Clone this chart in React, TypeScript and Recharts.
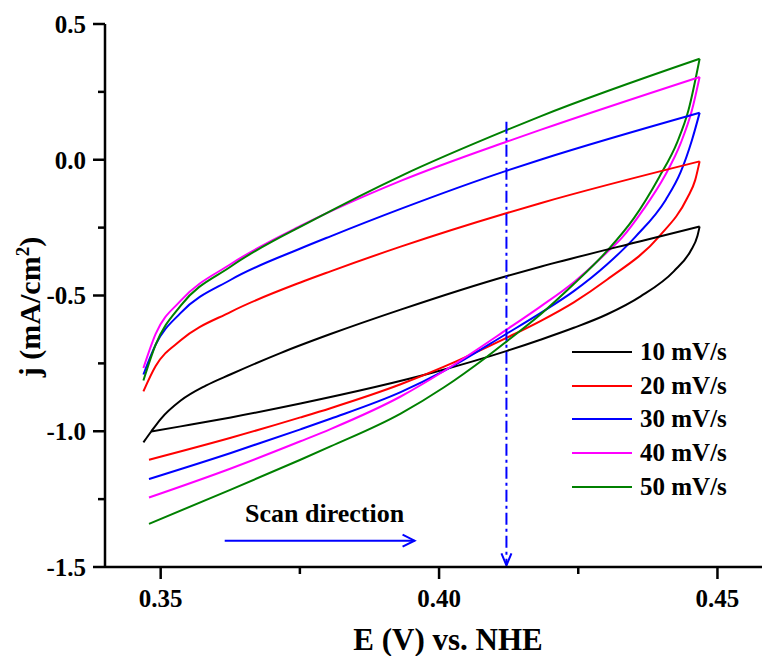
import React from 'react';
import { LineChart, Line, XAxis, YAxis, Legend, ReferenceLine } from 'recharts';

type Pt = [number, number];

// scan rates and colours
const rates = ['10 mV/s', '20 mV/s', '30 mV/s', '40 mV/s', '50 mV/s'];
const colors = ['#000000', '#ff0000', '#0000ff', '#ff00ff', '#008000'];

// lower branch of each loop (E in V, j in mA/cm2)
const lower10: Pt[] = [[0.3483, -1.001], [0.3536, -0.982], [0.3626, -0.949], [0.3751, -0.898], [0.3991, -0.783], [0.4122, -0.704], [0.4182, -0.663], [0.4242, -0.619], [0.4302, -0.569], [0.4362, -0.503], [0.4422, -0.410], [0.4452, -0.335], [0.4464, -0.281], [0.4468, -0.246]];
const lower20: Pt[] = [[0.3479, -1.105], [0.3626, -1.024], [0.3751, -0.949], [0.3805, -0.915], [0.3931, -0.827], [0.4009, -0.762], [0.4122, -0.655], [0.4182, -0.594], [0.4242, -0.525], [0.4302, -0.441], [0.4395, -0.283], [0.4446, -0.140], [0.4460, -0.075], [0.4468, -0.006]];
const lower30: Pt[] = [[0.3479, -1.176], [0.3626, -1.080], [0.3751, -0.993], [0.3805, -0.954], [0.3931, -0.856], [0.4009, -0.778], [0.4122, -0.640], [0.4182, -0.565], [0.4242, -0.484], [0.4302, -0.385], [0.4353, -0.283], [0.4407, -0.148], [0.4434, -0.045], [0.4454, 0.071], [0.4468, 0.173]];
const lower40: Pt[] = [[0.3479, -1.244], [0.3626, -1.137], [0.3751, -1.037], [0.3805, -0.992], [0.3931, -0.872], [0.4009, -0.778], [0.4122, -0.625], [0.4182, -0.541], [0.4242, -0.451], [0.4302, -0.340], [0.4329, -0.286], [0.4367, -0.183], [0.4405, -0.061], [0.4434, 0.061], [0.4454, 0.181], [0.4468, 0.305]];
const lower50: Pt[] = [[0.3479, -1.341], [0.3626, -1.215], [0.3751, -1.105], [0.3805, -1.056], [0.3931, -0.935], [0.4009, -0.838], [0.4083, -0.730], [0.4122, -0.668], [0.4182, -0.570], [0.4242, -0.458], [0.4302, -0.335], [0.4350, -0.215], [0.4395, -0.065], [0.4428, 0.066], [0.4448, 0.183], [0.4468, 0.372]];

// upper branch of each loop
const upper10: Pt[] = [[0.3469, -1.041], [0.3483, -1.001], [0.3500, -0.955], [0.3536, -0.887], [0.3581, -0.832], [0.3626, -0.790], [0.3715, -0.712], [0.3805, -0.642], [0.3931, -0.552], [0.4122, -0.428], [0.4182, -0.394], [0.4362, -0.300], [0.4468, -0.246]];
const upper20: Pt[] = [[0.3469, -0.853], [0.3491, -0.760], [0.3536, -0.665], [0.3626, -0.560], [0.3751, -0.452], [0.3805, -0.411], [0.3931, -0.320], [0.4122, -0.196], [0.4182, -0.160], [0.4468, -0.006]];
const upper30: Pt[] = [[0.3469, -0.791], [0.3491, -0.681], [0.3536, -0.564], [0.3626, -0.442], [0.3751, -0.327], [0.3805, -0.282], [0.3931, -0.181], [0.4122, -0.040], [0.4182, 0.000], [0.4468, 0.173]];
const upper40: Pt[] = [[0.3469, -0.767], [0.3491, -0.641], [0.3536, -0.519], [0.3626, -0.384], [0.3751, -0.244], [0.3931, -0.078], [0.4122, 0.067], [0.4182, 0.110], [0.4468, 0.305]];
const upper50: Pt[] = [[0.3469, -0.813], [0.3491, -0.681], [0.3536, -0.537], [0.3626, -0.393], [0.3778, -0.218], [0.3931, -0.060], [0.4122, 0.110], [0.4182, 0.160], [0.4468, 0.372]];

const lowers = [lower10, lower20, lower30, lower40, lower50];
const uppers = [upper10, upper20, upper30, upper40, upper50];

// axes
const xTicks = [0.35, 0.375, 0.4, 0.425, 0.45];
const xMajor = [0.35, 0.4, 0.45];
const yTicks = [-1.5, -1.25, -1.0, -0.75, -0.5, -0.25, 0.0, 0.25, 0.5];
const yMajor = [-1.5, -1.0, -0.5, 0.0, 0.5];

// annotations
const scanArrow = [{ x: 0.3615, y: -1.403 }, { x: 0.3956, y: -1.403 }];
const markerLine = [{ x: 0.4121, y: 0.14 }, { x: 0.4121, y: -1.494 }];

const FONT = '"Liberation Serif", "Times New Roman", Times, "DejaVu Serif", "Noto Serif", FreeSerif, serif';
const BLUE = '#0000ff';

const toRows = (pts: Pt[]) => pts.map(([E, j]) => ({ E, j }));
const isIn = (list: number[], v: number) => list.some((m) => Math.abs(m - v) < 1e-6);

const txt = { fontFamily: FONT, fontWeight: 'bold' as const, fill: '#000' };

const XTick = (props: any) => {
  const { x, y, payload } = props;
  const v = payload.value;
  const axisY = y - 12 - 10;
  const major = isIn(xMajor, v);
  return (
    <g>
      <line x1={x} x2={x} y1={axisY} y2={axisY + (major ? 12 : 7)} stroke="#000" strokeWidth={2.5} />
      {major && (
        <text x={x} y={y} dy="0.71em" textAnchor="middle" style={{ ...txt, fontSize: 25 }}>
          {v.toFixed(2)}
        </text>
      )}
    </g>
  );
};

const YTick = (props: any) => {
  const { x, y, payload } = props;
  const v = payload.value;
  const axisX = x + 12 + 7;
  const major = isIn(yMajor, v);
  return (
    <g>
      <line x1={axisX} x2={axisX - (major ? 12 : 7)} y1={y} y2={y} stroke="#000" strokeWidth={2.5} />
      {major && (
        <text x={x} y={y} dy="0.35em" textAnchor="end" style={{ ...txt, fontSize: 25 }}>
          {v.toFixed(1)}
        </text>
      )}
    </g>
  );
};

const YTitle = () => (
  <text x={40} y={307} transform="rotate(-90 40 307)" textAnchor="middle" style={{ ...txt, fontSize: 30 }}>
    j (mA/cm
    <tspan dy={-11} style={{ fontSize: 19 }}>2</tspan>
    <tspan dy={11}>)</tspan>
  </text>
);

const XTitle = () => (
  <text x={448} y={650} textAnchor="middle" style={{ ...txt, fontSize: 31 }}>
    E (V) vs. NHE
  </text>
);

const ScanShape = (p: any) => {
  const { x1, y1, x2, y2 } = p;
  return (
    <g>
      <line x1={x1} y1={y1} x2={x2} y2={y2} stroke={BLUE} strokeWidth={2} />
      <path d={`M${x2 - 12},${y2 - 6}L${x2},${y2}L${x2 - 12},${y2 + 6}`} fill="none" stroke={BLUE} strokeWidth={2} />
      <text x={(x1 + x2) / 2 + 5} y={y1 - 19} textAnchor="middle" style={{ ...txt, fontSize: 26 }}>
        Scan direction
      </text>
    </g>
  );
};

const MarkerShape = (p: any) => {
  const { x1, y1, x2, y2 } = p;
  return (
    <g>
      <line x1={x1} y1={y1} x2={x2} y2={y2} stroke={BLUE} strokeWidth={2} strokeDasharray="12 4 3 4" />
      <path d={`M${x2 - 5},${y2 - 12}L${x2},${y2}L${x2 + 5},${y2 - 12}`} fill="none" stroke={BLUE} strokeWidth={2} />
    </g>
  );
};

const renderLegend = (props: any) => {
  const items = (props.payload || []).filter((e: any) => e.type !== 'none');
  return (
    <div style={{ fontFamily: FONT, fontWeight: 'bold', fontSize: 25, color: '#000' }}>
      {items.map((e: any) => (
        <div key={e.value} style={{ display: 'flex', alignItems: 'center', height: 33.7 }}>
          <svg width={60} height={4} style={{ marginRight: 8 }}>
            <line x1={0} y1={2} x2={60} y2={2} stroke={e.color} strokeWidth={2} />
          </svg>
          <span style={{ lineHeight: '33.7px' }}>{e.value}</span>
        </div>
      ))}
    </div>
  );
};

export default function App() {
  return (
    <div style={{ position: 'absolute', left: 0, top: 0, width: 762, height: 656, background: '#fff' }}>
      <LineChart width={762} height={656} margin={{ top: 24, right: 0, bottom: 0, left: 5 }}>
        <XAxis
          dataKey="E"
          type="number"
          domain={[0.34, 0.458]}
          allowDataOverflow
          ticks={xTicks}
          interval={0}
          height={89}
          tickSize={12}
          tickMargin={10}
          tickLine={false}
          tick={<XTick />}
          axisLine={{ stroke: '#000', strokeWidth: 2.5 }}
          label={<XTitle />}
        />
        <XAxis
          xAxisId="top"
          orientation="top"
          type="number"
          domain={[0.34, 0.458]}
          height={0}
          tick={false}
          tickLine={false}
          axisLine={{ stroke: '#000', strokeWidth: 2.5 }}
        />
        <YAxis
          type="number"
          domain={[-1.5, 0.5]}
          allowDataOverflow
          ticks={yTicks}
          interval={0}
          width={100}
          tickSize={12}
          tickMargin={7}
          tickLine={false}
          tick={<YTick />}
          axisLine={{ stroke: '#000', strokeWidth: 2.5 }}
          label={<YTitle />}
        />
        <Legend
          content={renderLegend}
          layout="horizontal"
          verticalAlign="middle"
          align="center"
          width={190}
          wrapperStyle={{ left: 572, top: 335, width: 190 }}
        />
        {lowers.map((pts, i) => (
          <Line
            key={'lo' + i}
            data={toRows(pts)}
            dataKey="j"
            name={rates[i]}
            type="monotone"
            stroke={colors[i]}
            strokeWidth={2}
            dot={false}
            activeDot={false}
            legendType="plainline"
            isAnimationActive={false}
          />
        ))}
        {uppers.map((pts, i) => (
          <Line
            key={'up' + i}
            data={toRows(pts)}
            dataKey="j"
            name={rates[i] + ' (reverse)'}
            type="monotone"
            stroke={colors[i]}
            strokeWidth={2}
            dot={false}
            activeDot={false}
            legendType="none"
            isAnimationActive={false}
          />
        ))}
        <ReferenceLine segment={scanArrow} shape={ScanShape} />
        <ReferenceLine segment={markerLine} shape={MarkerShape} />
      </LineChart>
    </div>
  );
}
